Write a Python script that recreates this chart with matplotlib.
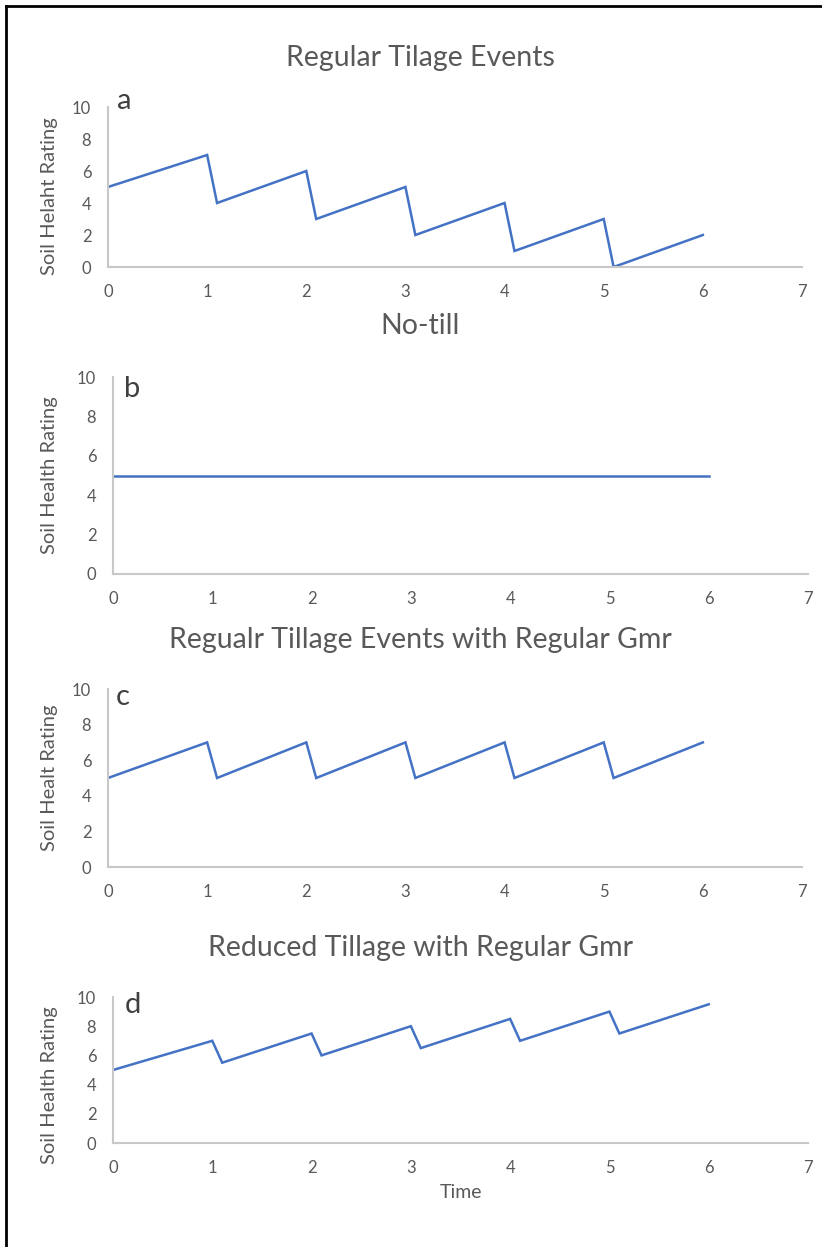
import matplotlib
matplotlib.use("Agg")
import matplotlib.pyplot as plt
from matplotlib.lines import Line2D

# ---- data ----
time_a = [0, 1, 1.1, 2, 2.1, 3, 3.1, 4, 4.1, 5, 5.1, 6]
rating_a = [5, 7, 4, 6, 3, 5, 2, 4, 1, 3, 0, 2]

time_b = [0, 1, 2, 3, 4, 5, 6]
rating_b = [5, 5, 5, 5, 5, 5, 5]

time_c = [0, 1, 1.1, 2, 2.1, 3, 3.1, 4, 4.1, 5, 5.1, 6]
rating_c = [5, 7, 5, 7, 5, 7, 5, 7, 5, 7, 5, 7]

time_d = [0, 1, 1.1, 2, 2.1, 3, 3.1, 4, 4.1, 5, 5.1, 6]
rating_d = [5, 7, 5.5, 7.5, 6, 8, 6.5, 8.5, 7, 9, 7.5, 9.5]

titles = ["Regular Tilage Events", "No-till",
          "Regualr Tillage Events with Regular Gmr",
          "Reduced Tillage with Regular Gmr"]
ylabels = ["Soil Helaht Rating", "Soil Health Rating",
           "Soil Healt Rating", "Soil Health Rating"]
letters = ["a", "b", "c", "d"]
x_ticks = [0, 1, 2, 3, 4, 5, 6, 7]
y_ticks = [0, 2, 4, 6, 8, 10]

series = [(time_a, rating_a), (time_b, rating_b), (time_c, rating_c), (time_d, rating_d)]

W, H = 822, 1247
plt.rcParams['font.family'] = ['Lato', 'DejaVu Sans']
TXT = '#595959'
AX = '#C8C8C8'
LINE = '#4472C4'

fig = plt.figure(figsize=(W / 100, H / 100), dpi=100)

# axes boxes in pixels: left, right, top, bottom
boxes = [(108, 802, 107, 267), (113, 808, 377, 574),
         (108, 802, 689, 867), (113, 808, 997, 1143)]
title_y = [58, 326, 640, 948]
letter_pos = [(117, 109), (124, 397), (116, 705), (125, 1013)]
ylabel_y = [196, 475, 778, 1085]

for i, (l, r, t, b) in enumerate(boxes):
    ax = fig.add_axes([l / W, 1 - b / H, (r - l) / W, (b - t) / H])
    xs, ys = series[i]
    ax.plot(xs, ys, color=LINE, lw=1.8, solid_joinstyle='miter')
    ax.set_xlim(0, 7)
    ax.set_ylim(0, 10)
    ax.set_xticks(x_ticks)
    ax.set_yticks(y_ticks)
    for s in ['top', 'right']:
        ax.spines[s].set_visible(False)
    for s in ['left', 'bottom']:
        ax.spines[s].set_color(AX)
        ax.spines[s].set_linewidth(1.5)
    ax.tick_params(axis='both', length=0, labelsize=12, labelcolor=TXT)
    ax.tick_params(axis='x', pad=12)
    ax.tick_params(axis='y', pad=12)
    ax.set_ylabel(ylabels[i], fontsize=14.5, color=TXT, va='center')
    ax.yaxis.set_label_coords((50 - l) / (r - l), (b - ylabel_y[i]) / (b - t))
    fig.text(420 / W, 1 - title_y[i] / H, titles[i], fontsize=20.5, color=TXT,
             ha='center', va='center')
    lx, ly = letter_pos[i]
    fig.text(lx / W, 1 - ly / H, letters[i], fontsize=21, color='#404040',
             ha='left', va='baseline')
    if i == 3:
        ax.set_xlabel("Time", fontsize=14, color=TXT, labelpad=6)

# outer border (top and left)
fig.add_artist(Line2D([6 / W, 1], [1 - 6 / H, 1 - 6 / H], color='black', lw=2,
                      transform=fig.transFigure))
fig.add_artist(Line2D([6 / W, 6 / W], [0, 1 - 6 / H], color='black', lw=2,
                      transform=fig.transFigure))

fig.savefig("out.png", dpi=100)
